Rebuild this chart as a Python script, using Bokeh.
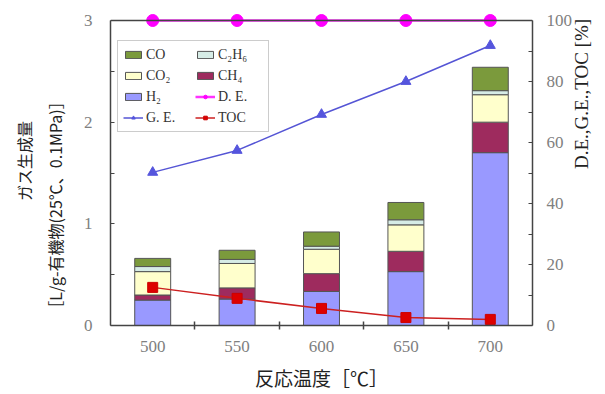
import math
from bokeh.plotting import figure
from bokeh.models import (Range1d, LinearAxis, FixedTicker, Legend, LegendItem,
                          Span, ColumnDataSource)
from bokeh.embed import file_html
from bokeh.resources import INLINE

# ---------------- data ----------------
temps = [500, 550, 600, 650, 700]
h2 = [0.25, 0.26, 0.335, 0.53, 1.70]
ch4 = [0.05, 0.11, 0.175, 0.20, 0.30]
co2 = [0.23, 0.24, 0.24, 0.26, 0.27]
c2h6 = [0.05, 0.04, 0.03, 0.05, 0.04]
co = [0.08, 0.09, 0.14, 0.17, 0.23]
de = [100, 100, 100, 100, 100]
ge = [50.2, 57.4, 69.2, 80.0, 91.8]
toc = [12.5, 8.9, 5.6, 2.6, 2.0]
left_ticks = [0, 1, 2, 3]
left_minor = [0.5, 1.5, 2.5]
right_ticks = [0, 20, 40, 60, 80, 100]
right_minor = [10, 30, 50, 70, 90]
x_minor = [525, 575, 625, 675]

SERIF = "Liberation Serif"
JP = "Noto Sans CJK JP"
AX = "#444444"
LBL = "#808080"
SP = "\u3000"

# frame: top at 12px, axis top (value 3) at 20px, bottom at 325px
YTOP = 3 * 313 / 305
PTOP = 100 * 313 / 305

p = figure(width=605, height=394, x_range=Range1d(475, 725),
           y_range=Range1d(0, YTOP), output_backend="svg",
           toolbar_location=None, min_border_left=110, min_border_right=73,
           min_border_top=12, min_border_bottom=69)
p.extra_y_ranges = {"pct": Range1d(0, PTOP)}
p.outline_line_color = None
p.xgrid.visible = False
p.ygrid.visible = False
p.background_fill_color = "white"
p.border_fill_color = "white"

# x axis
xa = p.xaxis[0]
xa.ticker = FixedTicker(ticks=temps, minor_ticks=x_minor)
xa.major_tick_in = 0
xa.major_tick_out = 0
xa.minor_tick_in = 4
xa.minor_tick_out = 4
xa.minor_tick_line_color = AX
xa.minor_tick_line_width = 1.5
xa.axis_line_color = AX
xa.axis_line_width = 1.5
xa.major_label_text_font = SERIF
xa.major_label_text_font_size = "17px"
xa.major_label_text_color = LBL
xa.major_label_standoff = 11
xa.axis_label = "反応温度［℃］"
xa.axis_label_text_font = JP
xa.axis_label_text_font_style = "normal"
xa.axis_label_text_font_size = "19px"
xa.axis_label_text_color = "#222222"
xa.axis_label_standoff = 9

# left axis
ya = p.yaxis[0]
ya.ticker = FixedTicker(ticks=left_ticks, minor_ticks=left_minor)
ya.bounds = (0, 3)
ya.major_tick_in = 4
ya.major_tick_out = 0
ya.minor_tick_in = 4
ya.minor_tick_out = 0
ya.major_tick_line_color = AX
ya.minor_tick_line_color = AX
ya.axis_line_color = AX
ya.axis_line_width = 1.5
ya.major_label_text_font = SERIF
ya.major_label_text_font_size = "17px"
ya.major_label_text_color = LBL
ya.major_label_standoff = 18
ya.axis_label = "［L/g-有機物(25℃、0.1MPa)］" + SP * 5
ya.axis_label_text_font = JP
ya.axis_label_text_font_style = "normal"
ya.axis_label_text_font_size = "16px"
ya.axis_label_text_color = "#222222"
ya.axis_label_standoff = 14

ya2 = LinearAxis(ticker=FixedTicker(ticks=[]), axis_line_color=None,
                 major_tick_line_color=None, minor_tick_line_color=None,
                 axis_label=SP + "ガス生成量", axis_label_text_font=JP,
                 axis_label_text_font_style="normal",
                 axis_label_text_font_size="16px",
                 axis_label_text_color="#222222", axis_label_standoff=4)
p.add_layout(ya2, "left")

# right axis
ra = LinearAxis(y_range_name="pct",
                ticker=FixedTicker(ticks=right_ticks, minor_ticks=right_minor),
                bounds=(0, 100))
ra.major_tick_in = 4
ra.major_tick_out = 0
ra.minor_tick_in = 4
ra.minor_tick_out = 0
ra.major_tick_line_color = AX
ra.minor_tick_line_color = AX
ra.axis_line_color = AX
ra.axis_line_width = 1.5
ra.major_label_text_font = SERIF
ra.major_label_text_font_size = "17px"
ra.major_label_text_color = LBL
ra.major_label_standoff = 14
ra.axis_label = "D.E.,G.E.,TOC [%]"
ra.axis_label_text_font = SERIF
ra.axis_label_text_font_style = "normal"
ra.axis_label_text_font_size = "19px"
ra.axis_label_text_color = "#222222"
ra.axis_label_standoff = 6
try:
    ra.axis_label_orientation = math.pi / 2
except Exception:
    pass
p.add_layout(ra, "right")

# top border line
p.add_layout(Span(location=3, dimension="width", line_color=AX, line_width=1.5))

# stacked bars
src = ColumnDataSource(dict(temp=temps, h2=h2, ch4=ch4, co2=co2, c2h6=c2h6, co=co))
bar_colors = ["#9999ff", "#9e2b5e", "#ffffcc", "#d6ece6", "#7b9a3c"]
bars = p.vbar_stack(["h2", "ch4", "co2", "c2h6", "co"], x="temp", width=21.3,
                    source=src, fill_color=bar_colors, line_color="#555555",
                    line_width=1)
r_h2, r_ch4, r_co2, r_c2h6, r_co = bars

# lines
toc_l = p.line(temps, toc, y_range_name="pct", line_color="#cc2020", line_width=1.5)
toc_m = p.scatter(temps, toc, y_range_name="pct", marker="square", size=10,
                  fill_color="#dd0000", line_color="#cc0000")
ge_l = p.line(temps, ge, y_range_name="pct", line_color="#5555d5", line_width=1.5)
ge_m = p.scatter(temps, ge, y_range_name="pct", marker="triangle", size=10,
                 fill_color="#5555dd", line_color="#5555dd")
de_l = p.line(temps, de, y_range_name="pct", line_color="#ff33ff", line_width=2.5)
de_m = p.scatter(temps, de, y_range_name="pct", marker="circle", size=12,
                 fill_color="#ff00ff", line_color="#ff00ff")

items = [
    LegendItem(label="CO", renderers=[r_co]),
    LegendItem(label="C₂H₆", renderers=[r_c2h6]),
    LegendItem(label="CO₂", renderers=[r_co2]),
    LegendItem(label="CH₄", renderers=[r_ch4]),
    LegendItem(label="H₂", renderers=[r_h2]),
    LegendItem(label="D. E.", renderers=[de_l, de_m]),
    LegendItem(label="G. E.", renderers=[ge_l, ge_m]),
    LegendItem(label="TOC", renderers=[toc_l, toc_m]),
]
leg = Legend(items=items, location=(7, 193), orientation="horizontal", ncols=2,
             label_text_font=SERIF, label_text_font_size="14px",
             label_text_color="#333333", label_standoff=3, label_height=17,
             label_width=45, glyph_width=20, glyph_height=9, spacing=4,
             padding=5, border_line_color="#999999", border_line_width=1,
             background_fill_color="white", background_fill_alpha=1)
p.add_layout(leg, "center")

open("out.html", "w").write(file_html(p, INLINE))
